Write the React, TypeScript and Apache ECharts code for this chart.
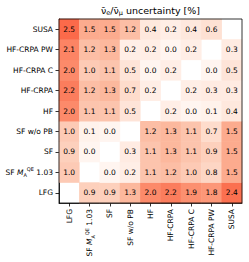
import React, { useEffect, useRef } from "react";
import * as echarts from "echarts";

const categories = ["LFG", "SF_MA", "SF", "SF w/o PB", "HF", "HF-CRPA", "HF-CRPA C", "HF-CRPA PW", "SUSA"];

// rows listed bottom (LFG) to top (SUSA); columns left to right as categories; null = blank
const rowLFG = [null, 0.9, 0.9, 1.3, 2.0, 2.2, 1.9, 1.8, 2.4];
const rowSFMA = [1.0, null, 0.0, 0.2, 1.1, 1.2, 1.0, 0.8, 1.5];
const rowSF = [0.9, 0.0, null, 0.3, 1.1, 1.3, 1.1, 0.9, 1.5];
const rowSFwoPB = [1.0, 0.1, 0.0, null, 1.2, 1.3, 1.1, 0.7, 1.5];
const rowHF = [2.0, 1.1, 1.1, 0.5, null, 0.2, 0.0, 0.1, 0.4];
const rowHFCRPA = [2.2, 1.2, 1.3, 0.7, 0.2, null, 0.2, 0.3, 0.3];
const rowHFCRPAC = [2.0, 1.0, 1.1, 0.5, 0.0, 0.2, null, 0.0, 0.5];
const rowHFCRPAPW = [2.1, 1.2, 1.3, 0.2, 0.2, 0.0, 0.2, null, 0.3];
const rowSUSA = [2.5, 1.5, 1.5, 1.2, 0.4, 0.2, 0.4, 0.6, null];

const rows = [rowLFG, rowSFMA, rowSF, rowSFwoPB, rowHF, rowHFCRPA, rowHFCRPAC, rowHFCRPAPW, rowSUSA];

const redsColors = ["#fff5f0", "#fee0d2", "#fcbba1", "#fc9272", "#fb6a4a", "#ef3b2c", "#cb181d", "#a50f15", "#67000d"];

const FONT = "DejaVu Sans";
const GRID = { left: 59, top: 19, width: 183, height: 184 };

const richStyles = {
  n: { fontSize: 7.5, fontFamily: FONT, color: "#000", lineHeight: 11 },
  it: { fontSize: 7.5, fontFamily: FONT, fontStyle: "italic", color: "#000", lineHeight: 11 },
  sub: { fontSize: 5, fontFamily: FONT, color: "#000", lineHeight: 5, verticalAlign: "bottom" },
  sup: { fontSize: 5, fontFamily: FONT, color: "#000", lineHeight: 5, verticalAlign: "top" },
};

function labelFmt(v: string) {
  if (v === "SF_MA") return "{n|SF }{it|M}{sub|A}{sup|QE}{n| 1.03}";
  return "{n|" + v + "}";
}

export default function App() {
  const ref = useRef<HTMLDivElement>(null);
  useEffect(() => {
    if (!ref.current) return;
    const chart = echarts.init(ref.current, null, { renderer: "svg" });
    const data: any[] = [];
    rows.forEach((row, yi) => {
      row.forEach((v, xi) => {
        if (v !== null) data.push([xi, yi, v]);
      });
    });
    chart.setOption({
      animation: false,
      backgroundColor: "#fff",
      grid: { ...GRID },
      xAxis: {
        type: "category",
        data: categories,
        axisLine: { show: true, lineStyle: { color: "#000", width: 0.8 } },
        axisTick: { show: true, alignWithLabel: true, length: 3.5, lineStyle: { color: "#000", width: 0.8 } },
        axisLabel: { rotate: 90, margin: 6, formatter: labelFmt, rich: richStyles, interval: 0 },
        splitLine: { show: false },
      },
      yAxis: {
        type: "category",
        data: categories,
        axisLine: { show: true, lineStyle: { color: "#000", width: 0.8 } },
        axisTick: { show: true, alignWithLabel: true, length: 3.5, lineStyle: { color: "#000", width: 0.8 } },
        axisLabel: { margin: 6, formatter: labelFmt, rich: richStyles, interval: 0 },
        splitLine: { show: false },
      },
      visualMap: {
        show: false,
        min: 0,
        max: 5,
        dimension: 2,
        inRange: { color: redsColors },
      },
      series: [
        {
          type: "heatmap",
          data,
          label: {
            show: true,
            formatter: (p: any) => Number(p.value[2]).toFixed(1),
            fontSize: 7.5,
            fontFamily: FONT,
            color: "#000",
          },
          itemStyle: { borderWidth: 0 },
          emphasis: { disabled: true },
        },
      ],
      graphic: [
        {
          type: "rect",
          z: 100,
          shape: { x: GRID.left, y: GRID.top, width: GRID.width, height: GRID.height },
          style: { fill: "none", stroke: "#000", lineWidth: 0.8 },
          silent: true,
        },
        {
          type: "text",
          z: 100,
          x: GRID.left + GRID.width / 2,
          y: 10,
          style: {
            text: "{n|ν̄}{s|e}{n|/ν̄}{s|μ}{n| uncertainty [%]}",
            align: "center",
            verticalAlign: "middle",
            rich: {
              n: { fontSize: 9.5, fontFamily: FONT, color: "#000", lineHeight: 13 },
              s: { fontSize: 6.5, fontFamily: FONT, color: "#000", lineHeight: 6, verticalAlign: "bottom" },
            },
          },
        },
      ],
    });
    return () => chart.dispose();
  }, []);
  return (
    <div
      ref={ref}
      style={{ position: "fixed", left: 0, top: 0, width: 249, height: 262, background: "#fff" }}
    />
  );
}
